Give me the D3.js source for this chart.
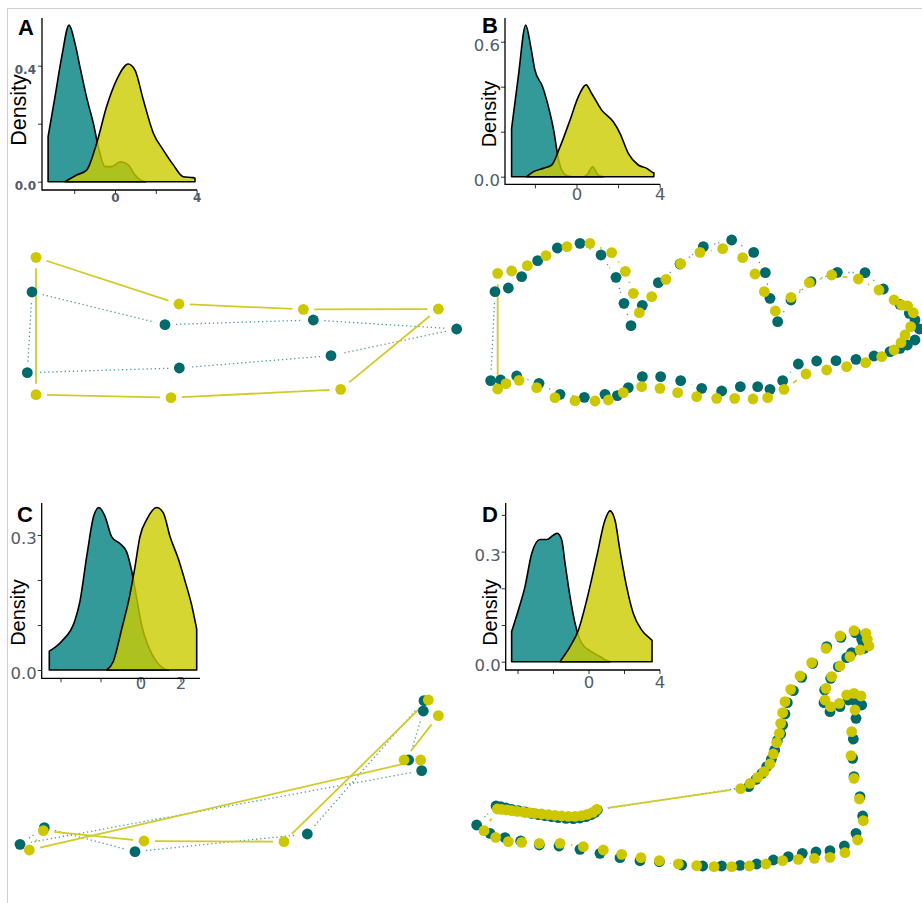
<!DOCTYPE html>
<html>
<head>
<meta charset="utf-8">
<script src="https://cdn.jsdelivr.net/npm/d3@7"></script>
<style>
  body { margin: 0; background: #fff; }
  svg { display: block; }
</style>
</head>
<body>
<svg id="chart"></svg>
<script>
// ---------- Data ----------
// density curves: [value, density]
const densA_teal = [[-3.28,0.155],[-2.94,0.293],[-2.61,0.431],[-2.25,0.54],[-1.96,0.477],[-1.72,0.397],[-1.36,0.282],[-1.06,0.201],[-0.82,0.121],[-0.49,0.052],[-0.16,0.052],[0.25,0.069],[0.65,0.058],[0.98,0.023],[1.31,0.003],[1.5,0]];
const densA_yel  = [[-2.45,0],[-1.88,0.023],[-1.39,0.04],[-0.9,0.132],[-0.41,0.259],[0.08,0.351],[0.65,0.406],[0.98,0.385],[1.39,0.282],[1.88,0.167],[2.37,0.109],[2.86,0.058],[3.35,0.017],[3.84,0.014],[3.92,0.012]];

const densB_teal = [[-3.12,0.215],[-2.8,0.444],[-2.44,0.674],[-2.2,0.578],[-2.0,0.474],[-1.63,0.4],[-1.31,0.296],[-1.07,0.193],[-0.92,0.104],[-0.71,0.03],[-0.47,0.005],[-0.2,0],[0.3,0],[0.49,0.007],[0.78,0.044],[1.05,0.007],[1.3,0]];
const densB_yel  = [[-2.39,0],[-2.08,0.022],[-1.6,0.037],[-1.19,0.052],[-0.79,0.133],[-0.31,0.252],[0.09,0.356],[0.46,0.408],[0.73,0.37],[1.21,0.296],[1.77,0.244],[2.09,0.193],[2.49,0.104],[2.97,0.052],[3.38,0.037],[3.69,0.018],[3.72,0.017]];

const densC_teal = [[-4.56,0.042],[-3.94,0.064],[-3.28,0.11],[-3.03,0.152],[-2.67,0.258],[-2.34,0.342],[-2.08,0.361],[-1.78,0.342],[-1.44,0.296],[-1.03,0.281],[-0.69,0.262],[-0.44,0.22],[-0.19,0.159],[0.06,0.099],[0.39,0.053],[0.73,0.023],[1.14,0.004],[1.4,0]];
const densC_yel  = [[-1.69,0],[-1.36,0.019],[-0.94,0.091],[-0.53,0.167],[-0.28,0.228],[-0.03,0.296],[0.31,0.334],[0.81,0.361],[1.14,0.349],[1.48,0.296],[1.89,0.247],[2.23,0.197],[2.56,0.144],[2.81,0.091]];

const densD_teal = [[-4.33,0.082],[-3.95,0.141],[-3.58,0.204],[-3.2,0.295],[-2.73,0.333],[-2.35,0.333],[-1.98,0.345],[-1.76,0.35],[-1.51,0.332],[-1.32,0.268],[-1.04,0.177],[-0.76,0.105],[-0.38,0.05],[0.18,0.027],[0.65,0.014],[1.03,0.003],[1.2,0]];
const densD_yel  = [[-1.61,0],[-1.04,0.041],[-0.57,0.086],[-0.1,0.168],[0.46,0.286],[0.93,0.386],[1.21,0.411],[1.49,0.386],[1.77,0.304],[2.15,0.204],[2.52,0.132],[3.0,0.086],[3.56,0.059],[3.58,0.058]];

// tick values and which of them carry a label
const ticksA = { x: [-2, 0, 2, 4], xLab: [0, 4], y: [0, 0.2, 0.4], yLab: [0, 0.4] };
const ticksB = { x: [-2, 0, 2, 4], xLab: [0, 4], y: [0, 0.2, 0.4, 0.6], yLab: [0, 0.6] };
const ticksC = { x: [-4, -2, 0, 2], xLab: [0, 2], y: [0, 0.1, 0.2, 0.3], yLab: [0, 0.3] };
const ticksD = { x: [-4, -2, 0, 2, 4], xLab: [0, 4], y: [0, 0.1, 0.2, 0.3, 0.4], yLab: [0, 0.3] };

// trajectories: [x, y] in arbitrary shape units (y down), closed loops
const trackA_teal = [[96,186],[495,284],[940,270],[1370,297],[993,377],[538,414],[82,428]];
const trackA_yel  = [[108,82],[537,222],[910,238],[1315,237],[1022,478],[513,503],[108,494]];

const trackB_teal = [[75,215],[115,204],[155,170],[203,122],[262,84],[330,70],[393,105],[438,172],[462,250],[483,317],[517,256],[565,188],[630,132],[700,80],[785,60],[851,97],[886,158],[900,235],[923,305],[963,240],[1023,185],[1102,157],[1185,158],[1240,207],[1290,253],[1318,280],[1335,300],[1348,327],[1335,360],[1312,375],[1290,385],[1260,395],[1212,408],[1158,418],[1098,422],[1040,423],[985,432],[938,482],[900,508],[863,500],[811,500],[755,513],[695,505],[632,482],[572,470],[517,470],[475,503],[442,527],[405,523],[343,532],[270,523],[207,490],[140,468],[92,480],[62,482]];
const trackB_yel  = [[83,160],[125,153],[172,137],[228,107],[291,80],[360,70],[425,98],[466,154],[490,220],[508,278],[545,230],[588,178],[632,131],[690,97],[758,86],[818,113],[855,162],[883,215],[916,273],[963,232],[1018,188],[1085,165],[1165,177],[1227,210],[1272,240],[1295,255],[1313,258],[1330,278],[1322,320],[1305,345],[1293,368],[1272,390],[1235,410],[1187,428],[1130,440],[1070,450],[1008,462],[942,508],[893,533],[849,537],[794,535],[740,535],[680,530],[623,518],[570,505],[515,500],[460,518],[415,540],[375,543],[315,542],[255,533],[200,503],[147,481],[108,491],[83,507]];

const trackC_teal = [[60,493],[133,443],[405,515],[922,462],[1272,62],[1270,93],[1226,240],[1265,272]];
const trackC_yel  = [[88,510],[130,452],[432,483],[852,485],[1285,60],[1315,107],[1212,240],[1262,240]];

const trackD_teal = [[108,588],[122,590],[138,594],[155,598],[175,602],[195,606],[215,610],[235,614],[255,617],[275,620],[295,623],[318,625],[340,626],[360,624],[378,620],[393,614],[405,607],[412,600],
  [866,530],[888,508],[906,490],[920,470],[934,448],[944,420],[952,392],[962,372],[968,345],[975,312],[982,278],[1000,242],[1025,202],[1058,160],[1100,110],[1143,82],[1186,68],
  [1205,88],[1210,100],[1212,115],[1175,128],
  [1160,143],[1135,170],[1112,205],[1094,240],[1092,278],[1110,305],[1140,290],[1165,270],[1185,272],[1205,285],
  [1188,325],[1180,387],[1178,445],[1182,500],[1200,560],[1208,618],[1188,670],[1153,708],
  [1110,722],[1068,726],[1027,730],[985,740],[940,750],[890,762],[840,766],[785,768],[728,768],[665,765],[598,755],[540,752],[480,743],[420,730],[360,718],[297,708],[238,705],[182,693],[135,683],[90,670],[50,645]];
const trackD_yel  = [[112,597],[125,598],[140,600],[155,602],[172,604],[190,606],[208,608],[225,610],[245,612],[265,614],[285,616],[305,618],[325,619],[345,619],[365,617],[382,613],[398,607],[410,598],
  [842,536],[870,520],[893,502],[912,485],[930,462],[940,432],[950,398],[958,370],[962,340],[968,308],[975,275],[992,238],[1020,198],[1055,158],[1098,115],[1140,78],[1182,62],
  [1218,70],[1222,88],[1227,108],[1200,120],
  [1170,140],[1140,168],[1115,200],[1098,235],[1095,270],[1112,290],[1138,280],[1160,255],[1182,250],[1203,258],
  [1185,300],[1175,365],[1173,437],[1182,505],[1198,567],[1210,632],[1193,690],[1155,728],
  [1110,742],[1063,745],[1015,748],[968,752],[918,762],[868,768],[815,770],[762,770],[710,767],[655,762],[598,752],[543,743],[485,733],[430,720],[370,710],[300,700],[238,700],[185,697],[145,695],[107,682],[72,662]];

// ---------- Setup ----------
const W = 922, H = 903;
const TEAL = "#006a6a", YEL = "#cdc700";
const TEAL_FILL = "#008080", YEL_FILL = "#cccc00";
const GAP = 11;

const svg = d3.select("#chart").attr("width", W).attr("height", H);

// frame
svg.append("line").attr("x1", 7).attr("x2", W).attr("y1", 8.5).attr("y2", 8.5).attr("stroke", "#cfcfcf");
svg.append("line").attr("x1", 7.5).attr("x2", 7.5).attr("y1", 8).attr("y2", H).attr("stroke", "#cfcfcf");

// Helper: density inset
function drawDensity(o) {
  const g = svg.append("g");
  const x = d3.scaleLinear().domain(o.xd).range(o.xr);
  const y = d3.scaleLinear().domain(o.yd).range(o.yr);

  const area = d3.area()
    .x(d => x(d[0]))
    .y0(y(0))
    .y1(d => y(d[1]))
    .curve(d3.curveMonotoneX);

  [[o.teal, TEAL_FILL], [o.yel, YEL_FILL]].forEach(([data, col]) => {
    g.append("path").datum(data)
      .attr("d", area)
      .attr("fill", col)
      .attr("fill-opacity", 0.8)
      .attr("stroke", "#000")
      .attr("stroke-width", 1.6)
      .attr("stroke-linejoin", "round");
  });

  const fmt = d3.format(".1f");
  const yAxis = g.append("g")
    .attr("transform", `translate(${o.left},0)`)
    .call(d3.axisLeft(y).tickValues(o.ticks.y).tickSize(4).tickPadding(o.yPad)
      .tickFormat(d => o.ticks.yLab.includes(d) ? fmt(d) : ""));
  const xAxis = g.append("g")
    .attr("transform", `translate(0,${o.bottom})`)
    .call(d3.axisBottom(x).tickValues(o.ticks.x).tickSize(4).tickPadding(o.xPad)
      .tickFormat(d => o.ticks.xLab.includes(d) ? String(d) : ""));

  [yAxis, xAxis].forEach(a => {
    a.select(".domain").remove();
    a.selectAll(".tick line").attr("stroke", "#333");
    a.selectAll("text")
      .attr("fill", "#555b68")
      .attr("font-family", o.tickFont)
      .attr("font-weight", o.tickWeight)
      .attr("font-size", o.tickSize);
  });
  yAxis.selectAll("text").attr("dy", o.yDy);

  // axis lines
  g.append("path")
    .attr("d", `M${o.left},${o.top}V${o.bottom}H${o.right}`)
    .attr("fill", "none")
    .attr("stroke", "#000")
    .attr("stroke-width", 1.3);

  g.append("text")
    .attr("transform", `translate(${o.labX},${o.labY}) rotate(-90)`)
    .attr("text-anchor", "middle")
    .attr("font-family", "Liberation Sans, Arial, sans-serif")
    .attr("font-size", o.labSize)
    .attr("fill", "#000")
    .text("Density");

  svg.append("text")
    .attr("x", o.letterX).attr("y", o.letterY)
    .attr("font-family", "Liberation Sans, Arial, sans-serif")
    .attr("font-weight", "bold")
    .attr("font-size", 22)
    .attr("fill", "#000")
    .text(o.letter);
}

// Helper: paired trajectories
function drawTracks(o) {
  const g = svg.append("g");
  const sx = d3.scaleLinear().domain(o.xd).range(o.xr);
  const sy = d3.scaleLinear().domain(o.yd).range(o.yr);

  function segments(pts) {
    const P = pts.map(p => [sx(p[0]), sy(p[1])]);
    const out = [];
    for (let i = 0; i < P.length; i++) {
      const a = P[i], b = P[(i + 1) % P.length];
      const dx = b[0] - a[0], dy = b[1] - a[1], L = Math.hypot(dx, dy);
      if (L <= 2 * GAP) continue;
      const ux = dx / L, uy = dy / L;
      out.push([a[0] + ux * GAP, a[1] + uy * GAP, b[0] - ux * GAP, b[1] - uy * GAP]);
    }
    return out;
  }

  g.selectAll(null).data(segments(o.teal)).join("line")
    .attr("x1", d => d[0]).attr("y1", d => d[1]).attr("x2", d => d[2]).attr("y2", d => d[3])
    .attr("stroke", "#2f8a8a").attr("stroke-width", 1.3)
    .attr("stroke-dasharray", "1.3 2.8").attr("opacity", 0.85);

  g.selectAll(null).data(segments(o.yel)).join("line")
    .attr("x1", d => d[0]).attr("y1", d => d[1]).attr("x2", d => d[2]).attr("y2", d => d[3])
    .attr("stroke", "#d0ca2a").attr("stroke-width", 1.8);

  [[o.teal, TEAL], [o.yel, YEL]].forEach(([pts, col]) => {
    g.selectAll(null).data(pts).join("circle")
      .attr("cx", d => sx(d[0]))
      .attr("cy", d => sy(d[1]))
      .attr("r", 5.4)
      .attr("fill", col);
  });
}

// ---------- Panels ----------
const smallTick = { tickFont: "DejaVu Sans, sans-serif", tickWeight: "bold", tickSize: 12 };
const bigTick = { tickFont: "DejaVu Sans, sans-serif", tickWeight: "normal", tickSize: 16.5 };

drawDensity(Object.assign({
  letter: "A", letterX: 18, letterY: 35,
  teal: densA_teal, yel: densA_yel, ticks: ticksA,
  xd: [0, 4], xr: [115, 196.6], yd: [0, 0.4], yr: [181.7, 65.7],
  left: 42, right: 197, top: 18, bottom: 190,
  xPad: -1, yPad: 2, yDy: "0.62em",
  labX: 26, labY: 110, labSize: 21.5
}, smallTick));

drawDensity(Object.assign({
  letter: "B", letterX: 482, letterY: 33,
  teal: densB_teal, yel: densB_yel, ticks: ticksB,
  xd: [0, 4], xr: [576.5, 659.7], yd: [0, 0.6], yr: [176.7, 41.7],
  left: 505, right: 660, top: 18, bottom: 184.3,
  xPad: 0, yPad: 1, yDy: "0.56em",
  labX: 496, labY: 114, labSize: 20
}, bigTick));

drawDensity(Object.assign({
  letter: "C", letterX: 17, letterY: 522,
  teal: densC_teal, yel: densC_yel, ticks: ticksC,
  xd: [0, 2], xr: [140.5, 180.5], yd: [0, 0.3], yr: [670, 535],
  left: 41.7, right: 200, top: 503, bottom: 678.3,
  xPad: -5, yPad: 1, yDy: "0.52em",
  labX: 25, labY: 612.5, labSize: 20
}, bigTick));

drawDensity(Object.assign({
  letter: "D", letterX: 482, letterY: 522,
  teal: densD_teal, yel: densD_yel, ticks: ticksD,
  xd: [0, 4], xr: [588.5, 659.5], yd: [0, 0.3], yr: [661.7, 551.6],
  left: 505.7, right: 660, top: 503, bottom: 670,
  xPad: 2.5, yPad: 1, yDy: "0.52em",
  labX: 496.5, labY: 612.5, labSize: 20
}, bigTick));

drawTracks({ teal: trackA_teal, yel: trackA_yel, xd: [0, 1410], xr: [0, 470], yd: [0, 570], yr: [230, 420] });
drawTracks({ teal: trackB_teal, yel: trackB_yel, xd: [0, 1356], xr: [470, 922], yd: [0, 600], yr: [220, 420] });
drawTracks({ teal: trackC_teal, yel: trackC_yel, xd: [0, 1380], xr: [0, 460], yd: [0, 600], yr: [680, 880] });
drawTracks({ teal: trackD_teal, yel: trackD_yel, xd: [0, 1380], xr: [460, 920], yd: [0, 840], yr: [610, 890] });
</script>
</body>
</html>
